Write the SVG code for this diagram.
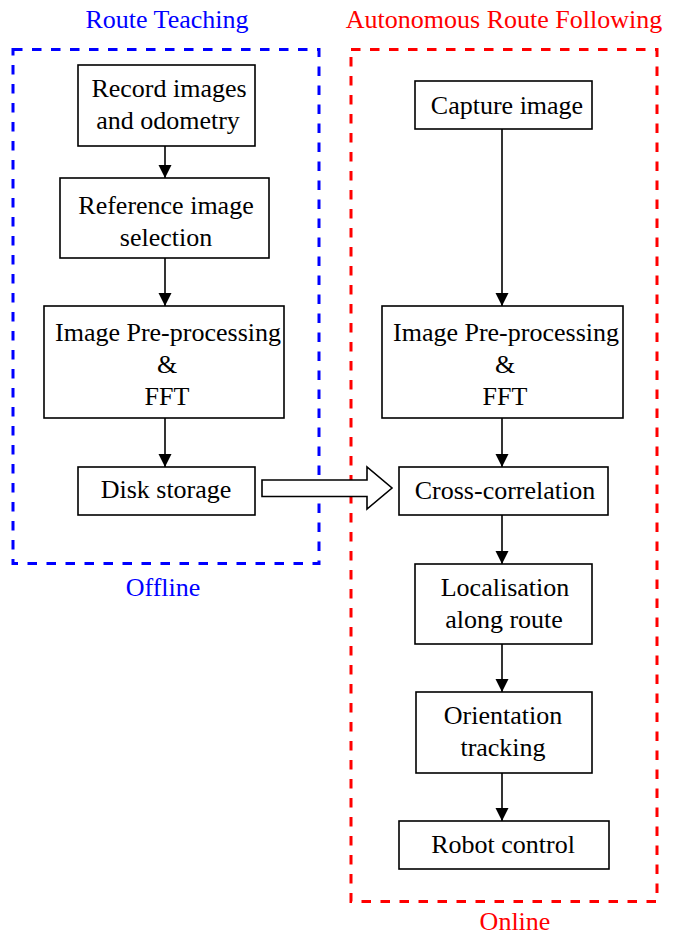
<svg xmlns="http://www.w3.org/2000/svg" width="674" height="937" viewBox="0 0 674 937">
<defs>
<style>
.box{fill:#fff;stroke:#000;stroke-width:1.6}
.t{font-family:"Liberation Serif","Times New Roman",serif;font-size:26px;fill:#000;text-anchor:middle}
.lbl{font-family:"Liberation Serif","Times New Roman",serif;font-size:26px;text-anchor:middle}
.edge{stroke:#000;stroke-width:1.6;fill:none;marker-end:url(#ah)}
.dash{fill:none;stroke-width:3;stroke-dasharray:9.5 9.5}
</style>
<marker id="ah" markerWidth="14" markerHeight="14" refX="13" refY="7" orient="auto" markerUnits="userSpaceOnUse">
<path d="M0,0.5 L13,7 L0,13.5 Z" fill="#000"/>
</marker>
</defs>
<rect width="674" height="937" fill="#fff"/>
<g id="group-teaching">
<rect class="dash" x="13" y="49.5" width="306" height="514" stroke="#0000ff"/>
<text class="lbl" x="167" y="28" fill="#0000ff">Route Teaching</text>
<text class="lbl" x="163" y="596" fill="#0000ff">Offline</text>
</g>
<g id="group-following">
<rect class="dash" x="351" y="49.5" width="306" height="852" stroke="#ff0000"/>
<text class="lbl" x="504" y="28" fill="#ff0000">Autonomous Route Following</text>
<text class="lbl" x="515" y="930" fill="#ff0000">Online</text>
</g>
<g id="connectors">
<line class="edge" x1="165" y1="146" x2="165" y2="178"/>
<line class="edge" x1="165" y1="258" x2="165" y2="306"/>
<line class="edge" x1="165" y1="418" x2="165" y2="467"/>
<line class="edge" x1="502" y1="129" x2="502" y2="306"/>
<line class="edge" x1="502" y1="418" x2="502" y2="467"/>
<line class="edge" x1="502" y1="515" x2="502" y2="564"/>
<line class="edge" x1="502" y1="644" x2="502" y2="692"/>
<line class="edge" x1="502" y1="773" x2="502" y2="821"/>
<path d="M262,480 L367,480 L367,467 L392,488 L367,509 L367,496.5 L262,496.5 Z" fill="#fff" stroke="#000" stroke-width="1.6"/>
</g>
<g id="n-record">
<rect class="box" x="78" y="65" width="177" height="81"/>
<text class="t" x="169" y="97">Record images</text>
<text class="t" x="168" y="129">and odometry</text>
</g>
<g id="n-refsel">
<rect class="box" x="60" y="178" width="209" height="80"/>
<text class="t" x="166" y="214">Reference image</text>
<text class="t" x="166" y="246">selection</text>
</g>
<g id="n-prep-left">
<rect class="box" x="44" y="306" width="240" height="112"/>
<text class="t" x="168" y="341">Image Pre-processing</text>
<text class="t" x="167" y="373">&amp;</text>
<text class="t" x="167" y="405">FFT</text>
</g>
<g id="n-disk">
<rect class="box" x="78" y="467" width="177" height="48"/>
<text class="t" x="166" y="498">Disk storage</text>
</g>
<g id="n-capture">
<rect class="box" x="415" y="81" width="177" height="48"/>
<text class="t" x="507" y="114">Capture image</text>
</g>
<g id="n-prep-right">
<rect class="box" x="382" y="306" width="241" height="112"/>
<text class="t" x="506" y="341">Image Pre-processing</text>
<text class="t" x="505" y="373">&amp;</text>
<text class="t" x="505" y="405">FFT</text>
</g>
<g id="n-xcorr">
<rect class="box" x="399" y="467" width="209" height="48"/>
<text class="t" x="505" y="499">Cross-correlation</text>
</g>
<g id="n-local">
<rect class="box" x="415" y="564" width="177" height="80"/>
<text class="t" x="505" y="596">Localisation</text>
<text class="t" x="504" y="628">along route</text>
</g>
<g id="n-orient">
<rect class="box" x="416" y="692" width="176" height="81"/>
<text class="t" x="503" y="724">Orientation</text>
<text class="t" x="503" y="756">tracking</text>
</g>
<g id="n-robot">
<rect class="box" x="399" y="821" width="210" height="48"/>
<text class="t" x="503" y="853">Robot control</text>
</g>
</svg>
